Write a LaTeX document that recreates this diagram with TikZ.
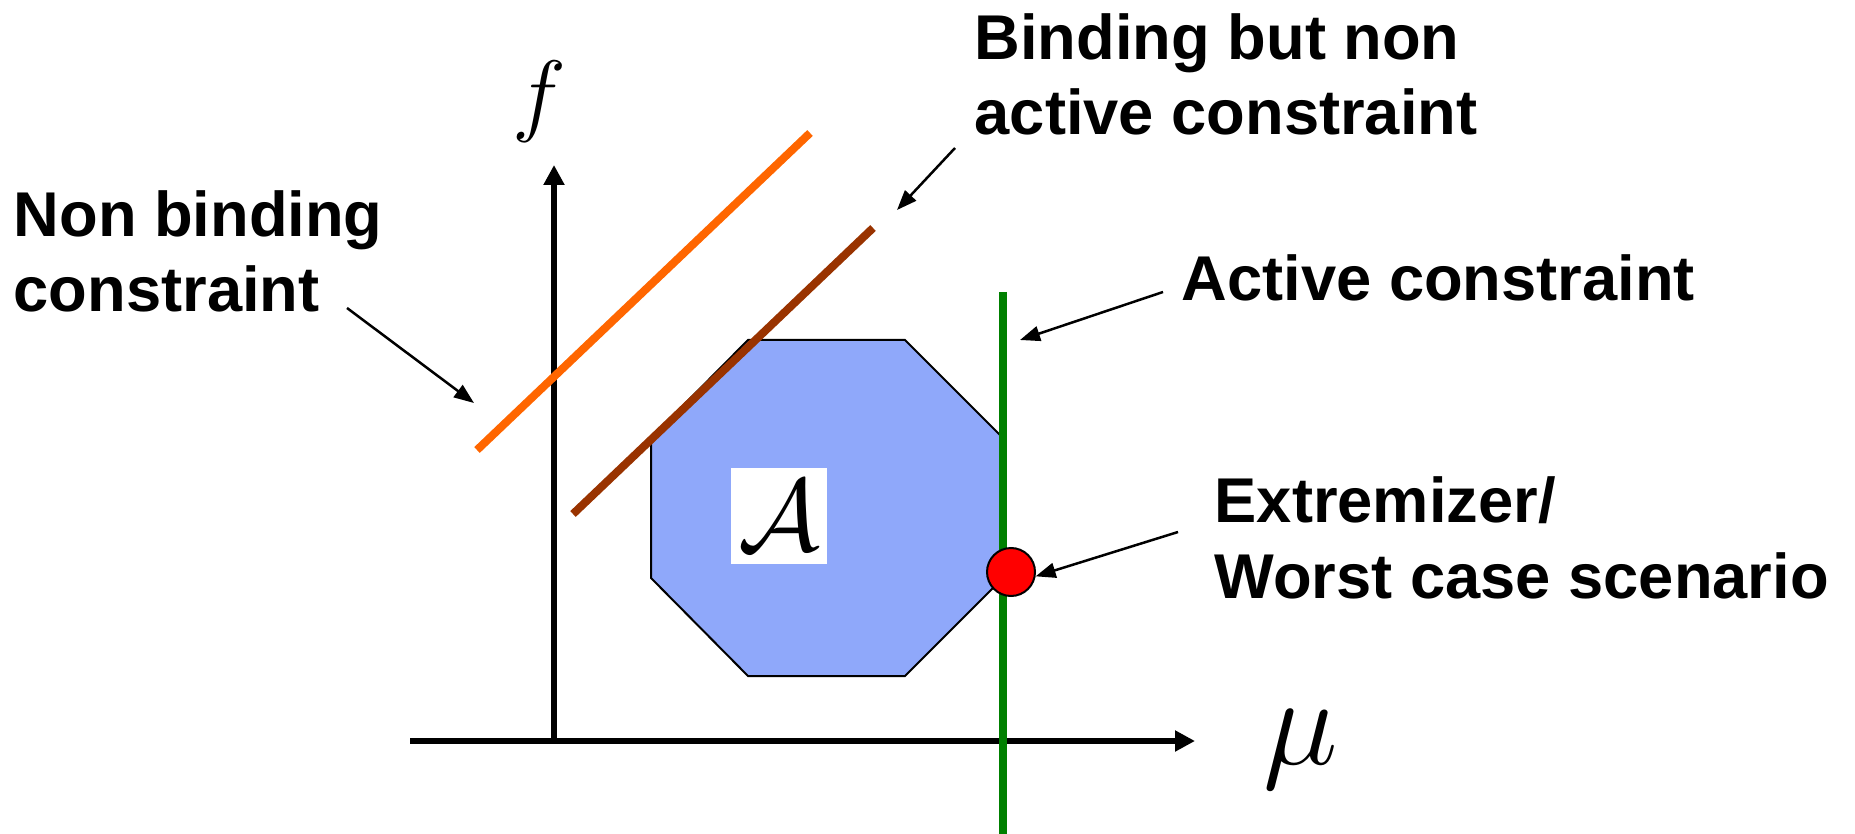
\RequirePackage{fix-cm}
\documentclass[tikz,border=0pt]{standalone}
\usepackage{amsmath,amssymb}
\usepackage{fontspec}
\newfontfamily\lblfont{Liberation Sans}
\usetikzlibrary{arrows.meta}
\definecolor{octblue}{RGB}{143,168,250}
\definecolor{nonbindcol}{RGB}{255,102,0}
\definecolor{bindcol}{RGB}{153,51,0}
\definecolor{actcol}{RGB}{0,128,0}

\begin{document}
\begin{tikzpicture}[x=0.1mm,y=-0.1mm,
  lbl/.style={inner sep=0,anchor=base west,align=left,font=\lblfont\bfseries\fontsize{18}{21.6}\selectfont},
  cons/.style={line width=0.8mm},
  lead/.style={line width=0.25mm,-{Triangle[length=2mm,width=1.5mm]}},
  axis/.style={line width=0.55mm,-{Triangle[length=2mm,width=2mm]}}]
\useasboundingbox (0,0) rectangle (1855,834);
\draw[axis] (410,741) -- (1195,741);
\draw[axis] (554,741) -- (554,165);
\node[inner sep=0,font=\fontsize{26}{26}\selectfont] (flbl) at (539,102) {$f$};
\node[inner sep=0,font=\fontsize{36}{36}\selectfont] (mulbl) at (1301,750) {$\mu$};
\draw[fill=octblue,line width=0.2mm] (748,340) -- (905,340) -- (1003,438) -- (1003,578) -- (905,676) -- (748,676) -- (651,578) -- (651,438) -- cycle;
\node[fill=white,minimum size=9.6mm,inner sep=0,font=\fontsize{29}{29}\selectfont] (aset) at (779,516) {$\mathcal{A}$};
\draw[cons,nonbindcol] (477,450) -- (810,133);
\draw[cons,bindcol] (573,514) -- (873,228);
\draw[cons,actcol] (1003,292) -- (1003,834);
\node[circle,draw,fill=red,minimum size=4.8mm,inner sep=0,line width=0.2mm] (worst) at (1011,572) {};
\node[lbl] (nbtext) at (13,312) {Non binding\\constraint};
\node[lbl] (bntext) at (974,135) {Binding but non\\active constraint};
\node[lbl] (actext) at (1181,301) {Active constraint};
\node[lbl] (wctext) at (1214,598) {Extremizer/\\Worst case scenario};
\coordinate (nbtail) at (347,308);
\coordinate (nbtip) at (474,403);
\coordinate (bntail) at (955,148);
\coordinate (bntip) at (897,210);
\coordinate (actail) at (1163,292);
\coordinate (actip) at (1020,340);
\coordinate (wctail) at (1178,532);
\draw[lead] (nbtail) -- (nbtip);
\draw[lead] (bntail) -- (bntip);
\draw[lead] (actail) -- (actip);
\draw[lead] (wctail) -- (worst.-10);
\end{tikzpicture}
\end{document}
